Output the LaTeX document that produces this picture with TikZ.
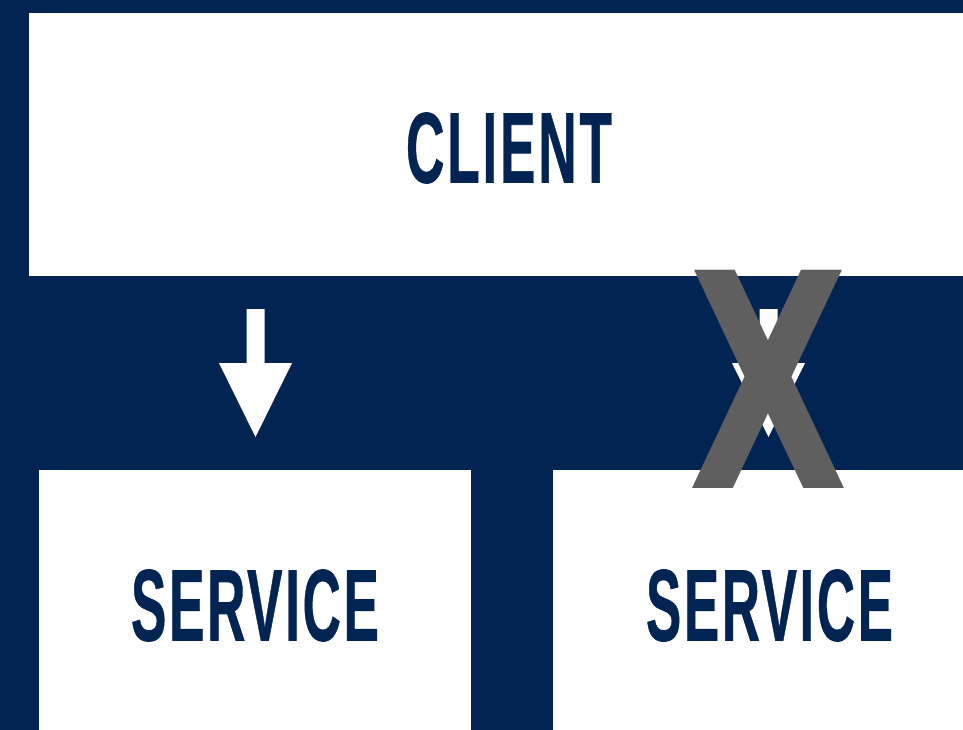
\documentclass[tikz,border=0pt]{standalone}
\usepackage{fontspec}
\setmainfont{Liberation Sans}
\newfontfamily\lblfont[FakeBold=0.7,LetterSpace=5]{Liberation Sans Bold}
\newfontfamily\crossfont{DejaVu Sans Bold}
\usepackage{graphicx}
\definecolor{navy}{HTML}{012452}
\definecolor{xgray}{HTML}{5F5F5F}
\tikzset{
  box/.style={fill=white, draw=none, inner sep=0pt, outer sep=0pt},
  lbl/.style={inner sep=0pt, outer sep=0pt, text=navy, font=\lblfont},
  blockarrow/.style={fill=white, draw=none},
}
\begin{document}
\begin{tikzpicture}[x=1pt,y=-1pt]
  \fill[navy] (0,0) rectangle (963,730);
  \useasboundingbox (0,0) rectangle (963,730);
  % boxes
  \node[box, anchor=north west, minimum width=934pt, minimum height=263pt] (client) at (29,13) {};
  \node[box, anchor=north west, minimum width=432pt, minimum height=260pt] (svc1) at (39,470) {};
  \node[box, anchor=north west, minimum width=410pt, minimum height=260pt] (svc2) at (553,470) {};
  % labels
  \node[lbl] (clientlbl) at (509,148) {\resizebox{206pt}{70pt}{CLIENT}};
  \node[lbl] (svc1lbl) at (255,605.5) {\resizebox{248pt}{71pt}{SERVICE}};
  \node[lbl] (svc2lbl) at (769.5,605.5) {\resizebox{247pt}{71pt}{SERVICE}};
  % arrows
  \coordinate (a1) at (255.5,309);
  \coordinate (a2) at (768.5,309);
  \fill[blockarrow] ([xshift=-9pt]a1) -- ([xshift=9pt]a1) -- ([xshift=9pt,yshift=-54pt]a1)
     -- ([xshift=36.5pt,yshift=-54pt]a1) -- ([yshift=-128pt]a1) -- ([xshift=-36.5pt,yshift=-54pt]a1)
     -- ([xshift=-9pt,yshift=-54pt]a1) -- cycle;
  \fill[blockarrow] ([xshift=-9pt]a2) -- ([xshift=9pt]a2) -- ([xshift=9pt,yshift=-54pt]a2)
     -- ([xshift=36.5pt,yshift=-54pt]a2) -- ([yshift=-128pt]a2) -- ([xshift=-36.5pt,yshift=-54pt]a2)
     -- ([xshift=-9pt,yshift=-54pt]a2) -- cycle;
  % cross
  \node[inner sep=0pt, outer sep=0pt, text=xgray, font=\crossfont] (cross) at (768.5,379.5) {\resizebox{160pt}{218pt}{X}};
\end{tikzpicture}
\end{document}
